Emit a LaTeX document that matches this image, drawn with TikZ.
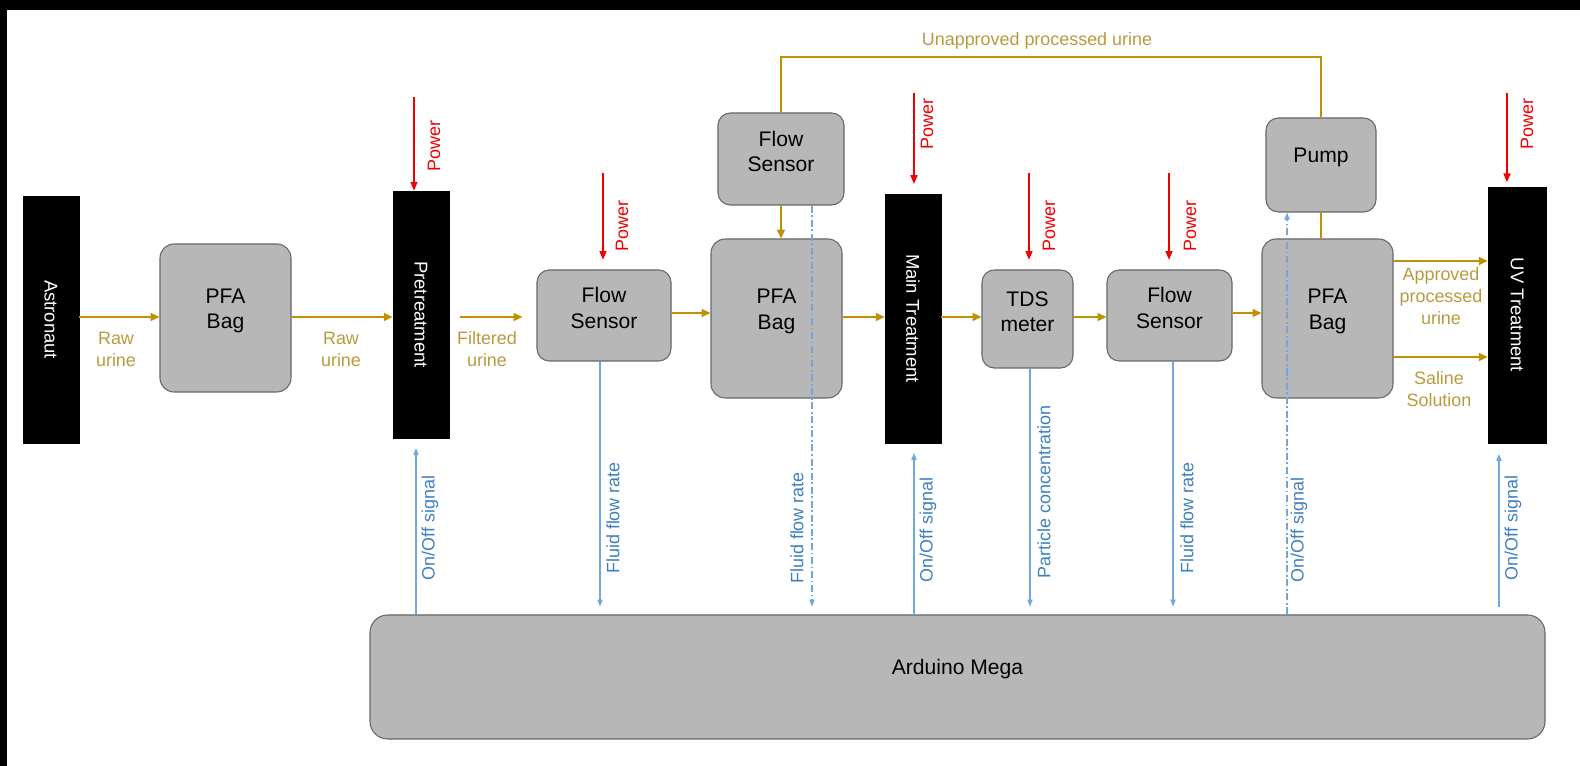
\documentclass[tikz,border=0pt]{standalone}
\usepackage{fontspec}
\setmainfont{Liberation Sans}
\usetikzlibrary{arrows.meta,fit}
\definecolor{flowc}{HTML}{BF9000}
\definecolor{flowt}{HTML}{B89A3E}
\definecolor{sigc}{HTML}{6FA8DC}
\definecolor{sigt}{HTML}{3D7FC0}
\definecolor{pwr}{HTML}{F00000}
\definecolor{boxfill}{HTML}{B7B7B7}
\definecolor{boxdraw}{HTML}{666666}
\newcommand\mybigfont{\fontsize{12}{14.5}\selectfont}
\newcommand\mybarfont{\fontsize{10.5}{12}\selectfont}
\newcommand\mylblfont{\fontsize{10.2}{12.6}\selectfont}
\tikzset{
  gbox/.style={draw=boxdraw, fill=boxfill, line width=0.6pt, rounded corners=8pt, inner sep=0pt, align=center, font=\mybigfont},
  blackbar/.style={draw=black, fill=black, inner sep=0pt},
  bartext/.style={rotate=-90, text=white, font=\mybarfont},
  flow/.style={draw=flowc, line width=0.9pt, -{Triangle[length=5pt,width=4.5pt]}},
  flowline/.style={draw=flowc, line width=0.9pt},
  flowlbl/.style={text=flowt, font=\mylblfont, align=center, inner sep=0pt},
  power/.style={draw=pwr, line width=0.8pt, -{Triangle[length=5pt,width=4pt]}},
  powerlbl/.style={rotate=90, text=pwr, font=\mylblfont, inner sep=0pt},
  sig/.style={draw=sigc, line width=0.6pt, -{Triangle[length=4pt,width=3pt]}},
  sigdash/.style={sig, dash pattern=on 4pt off 1.5pt on 1pt off 1.5pt},
  siglbl/.style={rotate=90, text=sigt, font=\mylblfont, inner sep=0pt},
}
\begin{document}
\begin{tikzpicture}[x=0.02cm, y=-0.02cm]
\path[use as bounding box] (0,0) rectangle (1580,766);
\fill[black] (0,0) rectangle (1580,10);
\fill[black] (0,0) rectangle (7,766);

% black process bars
\node[blackbar, fit={(23,196) (79,443)}] (ast) {};
\node[bartext] (asttxt) at (ast.center) {Astronaut};
\node[blackbar, fit={(393,191) (449,438)}] (pre) {};
\node[bartext] (pretxt) at (pre.center) {Pretreatment};
\node[blackbar, fit={(885,194) (941,443)}] (main) {};
\node[bartext] (maintxt) at (main.center) {Main Treatment};
\node[blackbar, fit={(1488,187) (1546,443)}] (uv) {};
\node[bartext] (uvtxt) at (uv.center) {UV Treatment};

% grey boxes
\node[gbox, fit={(160,244) (291,392)}] (pfa1) {PFA\\Bag};
\node[gbox, rounded corners=7pt, fit={(537,270) (671,361)}] (fs1) {Flow\\Sensor};
\node[gbox, rounded corners=7pt, fit={(718,113) (844,205)}] (fstop) {Flow\\Sensor};
\node[gbox, fit={(711,239) (842,398)}] (pfa2) {PFA\\Bag};
\node[gbox, rounded corners=7pt, fit={(982,270) (1073,368)}] (tds) {TDS\\meter};
\node[gbox, rounded corners=7pt, fit={(1107,270) (1232,361)}] (fs3) {Flow\\Sensor};
\node[gbox, rounded corners=7pt, fit={(1266,118) (1376,212)}] (pump) {Pump};
\node[gbox, fit={(1262,239) (1393,398)}] (pfa3) {PFA\\Bag};
\node[gbox, rounded corners=10pt, fit={(370,615) (1545,739)}] (ard) {Arduino Mega};

% main fluid flow
\coordinate (m) at (0,317);
\coordinate (m2) at (0,313);
\draw[flow] (ast.east |- m) -- (pfa1.west |- m);
\draw[flow] (pfa1.east |- m) -- (pre.west |- m);
\draw[flow, shorten <=6pt, shorten >=8pt] (pre.east |- m) -- (fs1.west |- m);
\draw[flow] (fs1.east |- m2) -- (pfa2.west |- m2);
\draw[flow] (pfa2.east |- m) -- (main.west |- m);
\draw[flow] (main.east |- m) -- (tds.west |- m);
\draw[flow] (tds.east |- m) -- (fs3.west |- m);
\draw[flow] (fs3.east |- m2) -- (pfa3.west |- m2);
\coordinate (a1) at (0,261);
\coordinate (a2) at (0,357);
\draw[flow] (pfa3.east |- a1) -- (uv.west |- a1);
\draw[flow] (pfa3.east |- a2) -- (uv.west |- a2);

\node[flowlbl] (l1) at (116,349) {Raw\\urine};
\node[flowlbl] (l2) at (341,349) {Raw\\urine};
\node[flowlbl] (l3) at (487,349) {Filtered\\urine};
\node[flowlbl] (l4) at (1441,296) {Approved\\processed\\urine};
\node[flowlbl] (l5) at (1439,389) {Saline\\Solution};

% unapproved loop
\coordinate (tp) at (0,57);
\draw[flowline] (pump.north) -- (pump.north |- tp) -| (fstop.north);
\draw[flowline] (pump.south) -- (pump.south |- pfa3.north);
\draw[flow] (fstop.south) -- (fstop.south |- pfa2.north);
\node[flowlbl] (l6) at (1037,41) {Unapproved processed urine};

% power
\coordinate (pw1) at (414,97);
\coordinate (pw2) at (603,173);
\coordinate (pw3) at (914,93);
\coordinate (pw4) at (1029,173);
\coordinate (pw5) at (1169,173);
\coordinate (pw6) at (1507,93);
\draw[power] (pw1) -- (pw1 |- pre.north);
\draw[power, shorten >=5.5pt] (pw2) -- (pw2 |- fs1.north);
\draw[power, shorten >=5.5pt] (pw3) -- (pw3 |- main.north);
\draw[power, shorten >=5.5pt] (pw4) -- (pw4 |- tds.north);
\draw[power, shorten >=5.5pt] (pw5) -- (pw5 |- fs3.north);
\draw[power, shorten >=2.5pt] (pw6) -- (pw6 |- uv.north);
\node[powerlbl] (p1) at (434,146) {Power};
\node[powerlbl] (p2) at (622,226) {Power};
\node[powerlbl] (p3) at (927,124) {Power};
\node[powerlbl] (p4) at (1049,226) {Power};
\node[powerlbl] (p5) at (1190,226) {Power};
\node[powerlbl] (p6) at (1527,124) {Power};

% signals
\coordinate (s1) at (416,0);
\coordinate (s2) at (600,0);
\coordinate (s3) at (812,0);
\coordinate (s4) at (914,0);
\coordinate (s5) at (1030,0);
\coordinate (s6) at (1173,0);
\coordinate (s7) at (1287,0);
\coordinate (s8) at (1499,0);
\draw[sig, shorten >=5.5pt] (s1 |- ard.north) -- (s1 |- pre.south);
\draw[sig, shorten >=4.5pt] (s2 |- fs1.south) -- (s2 |- ard.north);
\draw[sigdash, shorten >=4.5pt] (s3 |- fstop.south) -- (s3 |- ard.north);
\draw[sig, shorten >=5.5pt] (s4 |- ard.north) -- (s4 |- main.south);
\draw[sig, shorten >=4.5pt] (s5 |- tds.south) -- (s5 |- ard.north);
\draw[sig, shorten >=4.5pt] (s6 |- fs3.south) -- (s6 |- ard.north);
\draw[sigdash] (s7 |- ard.north) -- (s7 |- pump.south);
\draw[sig, shorten <=4pt, shorten >=6pt] (s8 |- ard.north) -- (s8 |- uv.south);
\node[siglbl] (g1) at (430,528) {On/Off signal};
\node[siglbl] (g2) at (613,518) {Fluid flow rate};
\node[siglbl] (g3) at (797,528) {Fluid flow rate};
\node[siglbl] (g4) at (928,530) {On/Off signal};
\node[siglbl] (g5) at (1044,492) {Particle concentration};
\node[siglbl] (g6) at (1187,518) {Fluid flow rate};
\node[siglbl] (g7) at (1299,530) {On/Off signal};
\node[siglbl] (g8) at (1513,528) {On/Off signal};
\end{tikzpicture}
\end{document}
